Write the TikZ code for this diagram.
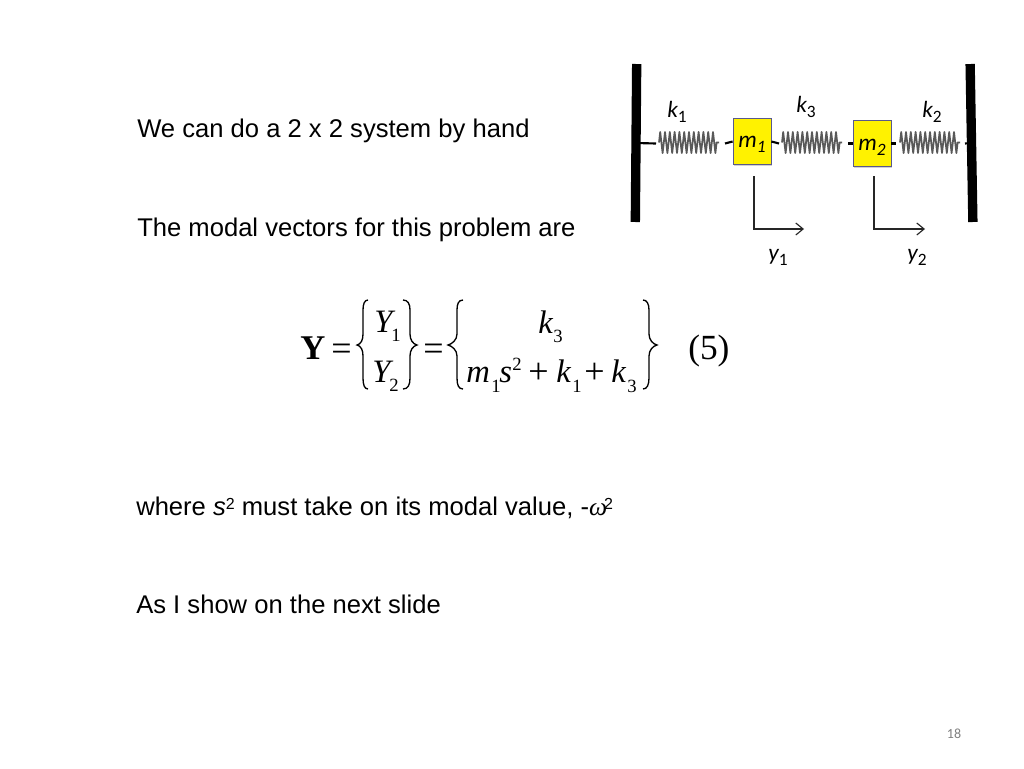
\documentclass[tikz,border=0pt]{standalone}
\usepackage{fontspec}
\setmainfont{Liberation Sans}
\newfontfamily\tms{Liberation Serif}
\newfontfamily\clb{Carlito}
\usetikzlibrary{arrows.meta,decorations.pathmorphing,shadows}
\newcommand{\supr}[1]{\raisebox{4.6pt}{\fontsize{12}{12}\selectfont #1}}
\newcommand{\lowr}[1]{\raisebox{-.25em}{\fontsize{13}{14}\selectfont #1}}
\tikzset{
  x=0.75pt,y=-0.75pt,
  body/.style={anchor=base west,inner sep=0pt,font=\fontsize{19.2}{21}\selectfont},
  wall/.style={fill=black,minimum width=7pt,minimum height=118.5pt,inner sep=0pt},
  mass/.style={fill=yellow,draw=black!35!blue!30!gray,line width=.6pt,minimum width=28.5pt,inner sep=0pt,
    drop shadow={shadow xshift=.7pt,shadow yshift=-.7pt,opacity=.35}},
  link/.style={line width=1.6pt,black},
  coilspring/.style={draw=black!65,line width=1.3pt,line join=round,decorate,
    decoration={zigzag,amplitude=7.9pt,segment length=3.6pt}},
  meas/.style={draw=black!85,line width=.85pt,-{Straight Barb[length=5.5pt,width=9pt]}},
  clabel/.style={inner sep=0pt,anchor=base,font=\clb\fontsize{17.5}{19}\selectfont},
  eq/.style={inner sep=0pt,anchor=base west,font=\tms\fontsize{24.5}{26}\selectfont},
  eqop/.style={inner sep=0pt,anchor=base west,font=\tms\fontsize{27}{29}\selectfont},
  sub/.style={inner sep=0pt,anchor=base west,font=\tms\fontsize{14}{16}\selectfont},
  brc/.style={draw=black,line width=1pt},
}
\begin{document}
\begin{tikzpicture}
\useasboundingbox (0,0) rectangle (1024,768);
\fill[white] (0,0) rectangle (1024,768);
% body text
\node[body] (t1) at (137,137.5) {We can do a 2 x 2 system by hand};
\node[body] (t2) at (137,236.5) {The modal vectors for this problem are};
\node[body] (t3) at (136,515.5) {where \textit{s}\supr{2} must take on its modal value, -{\tms\itshape ω}\kern-.12em\supr{2}};
\node[body] (t4) at (136,613.5) {As I show on the next slide};
\node[inner sep=0pt,anchor=base,text=black!50,font=\clb\fontsize{10.5}{12}\selectfont] (pg) at (954,738) {18};
% walls and masses
\node[wall,rotate=-0.5] (wl) at (636,143) {};
\node[wall,rotate=1] (wr) at (971.5,143) {};
\node[mass,minimum height=35pt] (m1) at (752,141.5) {};
\node[mass,minimum height=35pt] (m2) at (872,143.5) {};
\node[clabel] (m1t) at (752,147) {\itshape m\lowr{1}};
\node[clabel] (m2t) at (872,150) {\itshape m\lowr{2}};
% spring ends
\coordinate (a1) at (656,143.5); \coordinate (b1) at (659,142.5);
\coordinate (c1) at (719,142.5); \coordinate (d1) at (725,143.5);
\coordinate (a3) at (779,143.5); \coordinate (b3) at (782,142.5);
\coordinate (c3) at (842,142.5); \coordinate (d3) at (848,143.5);
\coordinate (a2) at (896,143.5); \coordinate (b2) at (900,142.5);
\coordinate (c2) at (960,142.5); \coordinate (d2) at (965,143.5);
\draw[link] (wl.center) -- (a1);
\draw[link] (d1) -- (m1.west);
\draw[link] (m1.east) -- (a3);
\draw[link] (d3) -- (m2.west);
\draw[link] (m2.east) -- (a2);
\draw[link] (d2) -- (wr.center);
\path[coilspring] (b1) -- (c1);
\path[coilspring] (b3) -- (c3);
\path[coilspring] (b2) -- (c2);
% spring and coordinate labels
\node[clabel] (k1) at (677,117) {\itshape k\lowr{\upshape 1}};
\node[clabel] (k3) at (806,112) {\itshape k\lowr{\upshape 3}};
\node[clabel] (k2) at (932,117) {\itshape k\lowr{\upshape 2}};
\node[clabel] (y1) at (778,260) {\itshape y\lowr{\upshape 1}};
\node[clabel] (y2) at (917,260) {\itshape y\lowr{\upshape 2}};
% displacement arrows
\coordinate (p1) at (754,176); \coordinate (q1) at (804,229);
\coordinate (p2) at (874,176); \coordinate (q2) at (925,229);
\draw[meas] (p1) |- (q1);
\draw[meas] (p2) |- (q2);
% equation
\node[eq,font=\tms\bfseries\fontsize{26}{28}\selectfont] (Yb) at (300,359) {Y};
\node[eqop] (e1) at (331,360) {=};
\node[eq] (Y1) at (374,332) {\itshape Y};
\node[sub] (Y1s) at (391,341) {1};
\node[eq] (Y2) at (372,382) {\itshape Y};
\node[sub] (Y2s) at (389,391) {2};
\node[eqop] (e2) at (423,360) {=};
\node[eq] (k3a) at (538,333) {\itshape k};
\node[sub] (k3s) at (553,342) {3};
\node[eq] (mm) at (466,382) {\itshape m};
\node[sub] (ms) at (491,392) {1};
\node[eq] (ss) at (499,382) {\itshape s};
\node[sub] (s2) at (512,370) {2};
\node[eqop] (pl1) at (528,383) {+};
\node[eq] (k1a) at (556,382) {\itshape k};
\node[sub] (k1s) at (572,392) {1};
\node[eqop] (pl2) at (584,383) {+};
\node[eq] (k3b) at (611,382) {\itshape k};
\node[sub] (k3t) at (627,392) {3};
\node[eq,font=\tms\fontsize{26.5}{28}\selectfont] (five) at (688,359.5) {(5)};
% braces
\draw[brc] (368,300) .. controls (364.5,300) and (363,304) .. (363,310) -- (363,334)
   .. controls (363,340) and (361,344) .. (357,345)
   .. controls (361,346) and (363,350) .. (363,356) -- (363,378)
   .. controls (363,385) and (364.5,389) .. (368,389);
\draw[brc] (403,300) .. controls (408,300) and (410,304) .. (410,310) -- (410,334)
   .. controls (410,340) and (413,344) .. (417,345)
   .. controls (413,346) and (410,350) .. (410,356) -- (410,378)
   .. controls (410,385) and (408,389) .. (403,389);
\draw[brc] (463,300) .. controls (458.5,300) and (457,304) .. (457,310) -- (457,334)
   .. controls (457,340) and (452,344) .. (448,345)
   .. controls (452,346) and (457,350) .. (457,356) -- (457,378)
   .. controls (457,385) and (458.5,389) .. (463,389);
\draw[brc] (643,300) .. controls (647,300) and (649,304) .. (649,310) -- (649,334)
   .. controls (649,340) and (653,344) .. (657,345)
   .. controls (653,346) and (649,350) .. (649,356) -- (649,378)
   .. controls (649,385) and (647,389) .. (643,389);
\end{tikzpicture}
\end{document}
